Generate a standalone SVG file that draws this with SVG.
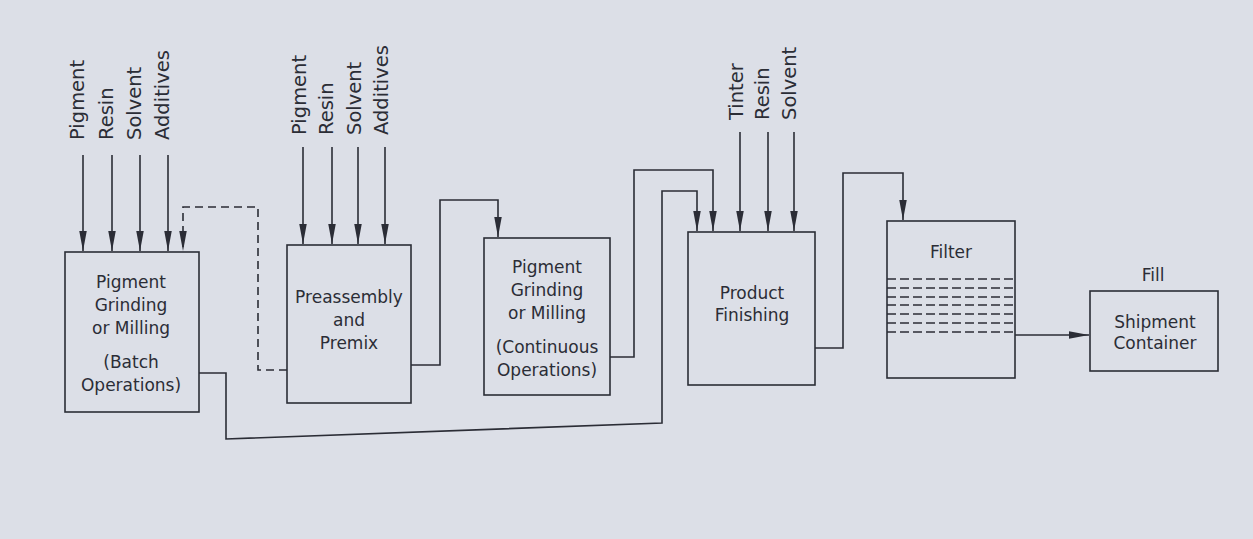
<svg xmlns="http://www.w3.org/2000/svg" width="1253" height="539" viewBox="0 0 1253 539">
<defs>
<style>
.box{fill:none;stroke:#2b2d36;stroke-width:1.6}
.ln{fill:none;stroke:#2b2d36;stroke-width:1.6}
.dash{stroke-dasharray:8 5}
.fd{fill:none;stroke:#2b2d36;stroke-width:1.6;stroke-dasharray:9 4}
.t{font-family:"DejaVu Sans",sans-serif;font-size:17px;fill:#2b2d36;text-anchor:middle}
.v{font-family:"DejaVu Sans",sans-serif;font-size:19.5px;fill:#2b2d36;text-anchor:start}
</style>
<marker id="ah" markerUnits="userSpaceOnUse" markerWidth="21" markerHeight="8" refX="20" refY="3.75" orient="auto">
<path d="M0,0 L20,3.75 L0,7.5 z" fill="#2b2d36"/>
</marker>
</defs>
<rect width="1253" height="539" fill="#dcdfe7"/>

<g id="connectors">
<g id="inputs-batch">
<line class="ln" x1="83" y1="155" x2="83" y2="251" marker-end="url(#ah)"/>
<line class="ln" x1="112" y1="155" x2="112" y2="251" marker-end="url(#ah)"/>
<line class="ln" x1="140" y1="155" x2="140" y2="251" marker-end="url(#ah)"/>
<line class="ln" x1="168" y1="155" x2="168" y2="251" marker-end="url(#ah)"/>
<text class="v" transform="translate(84,140) rotate(-90)">Pigment</text>
<text class="v" transform="translate(113,140) rotate(-90)">Resin</text>
<text class="v" transform="translate(141,140) rotate(-90)">Solvent</text>
<text class="v" transform="translate(169,140) rotate(-90)">Additives</text>
</g>
<g id="inputs-premix">
<line class="ln" x1="303" y1="147" x2="303" y2="244" marker-end="url(#ah)"/>
<line class="ln" x1="332" y1="147" x2="332" y2="244" marker-end="url(#ah)"/>
<line class="ln" x1="358" y1="147" x2="358" y2="244" marker-end="url(#ah)"/>
<line class="ln" x1="385" y1="147" x2="385" y2="244" marker-end="url(#ah)"/>
<text class="v" transform="translate(306,135) rotate(-90)">Pigment</text>
<text class="v" transform="translate(333,135) rotate(-90)">Resin</text>
<text class="v" transform="translate(361,135) rotate(-90)">Solvent</text>
<text class="v" transform="translate(388,135) rotate(-90)">Additives</text>
</g>
<g id="inputs-finishing">
<line class="ln" x1="740" y1="132" x2="740" y2="231" marker-end="url(#ah)"/>
<line class="ln" x1="768" y1="132" x2="768" y2="231" marker-end="url(#ah)"/>
<line class="ln" x1="794" y1="132" x2="794" y2="231" marker-end="url(#ah)"/>
<text class="v" transform="translate(743,120) rotate(-90)">Tinter</text>
<text class="v" transform="translate(769,120) rotate(-90)">Resin</text>
<text class="v" transform="translate(796,120) rotate(-90)">Solvent</text>
</g>
<polyline class="ln dash" points="287,370 258,370 258,207 183,207 183,251" marker-end="url(#ah)"/>
<polyline class="ln" points="411,365 440,365 440,200 498,200 498,237" marker-end="url(#ah)"/>
<polyline class="ln" points="610,357 634,357 634,170 713,170 713,231" marker-end="url(#ah)"/>
<polyline class="ln" points="199,373 226,373 226,439 662,423 662,191 697,191 697,231" marker-end="url(#ah)"/>
<polyline class="ln" points="815,348 843,348 843,173 903,173 903,220" marker-end="url(#ah)"/>
<line class="ln" x1="1015" y1="335" x2="1089" y2="335" marker-end="url(#ah)"/>
</g>

<g id="batch-grinding">
<rect class="box" x="65" y="252" width="134" height="160"/>
<text class="t" x="131" y="288">Pigment</text>
<text class="t" x="131" y="311">Grinding</text>
<text class="t" x="131" y="334">or Milling</text>
<text class="t" x="131" y="368">(Batch</text>
<text class="t" x="131" y="391">Operations)</text>
</g>

<g id="preassembly">
<rect class="box" x="287" y="245" width="124" height="158"/>
<text class="t" x="349" y="303">Preassembly</text>
<text class="t" x="349" y="326">and</text>
<text class="t" x="349" y="349">Premix</text>
</g>

<g id="continuous-grinding">
<rect class="box" x="484" y="238" width="126" height="157"/>
<text class="t" x="547" y="273">Pigment</text>
<text class="t" x="547" y="296">Grinding</text>
<text class="t" x="547" y="319">or Milling</text>
<text class="t" x="547" y="353">(Continuous</text>
<text class="t" x="547" y="376">Operations)</text>
</g>

<g id="product-finishing">
<rect class="box" x="688" y="232" width="127" height="153"/>
<text class="t" x="752" y="299">Product</text>
<text class="t" x="752" y="321">Finishing</text>
</g>

<g id="filter">
<rect class="box" x="887" y="221" width="128" height="157"/>
<text class="t" x="951" y="258">Filter</text>
<line class="fd" x1="887" y1="279" x2="1015" y2="279"/>
<line class="fd" x1="887" y1="288" x2="1015" y2="288"/>
<line class="fd" x1="887" y1="297" x2="1015" y2="297"/>
<line class="fd" x1="887" y1="305" x2="1015" y2="305"/>
<line class="fd" x1="887" y1="314" x2="1015" y2="314"/>
<line class="fd" x1="887" y1="323" x2="1015" y2="323"/>
<line class="fd" x1="887" y1="332" x2="1015" y2="332"/>
</g>

<g id="shipment">
<text class="t" x="1153" y="281">Fill</text>
<rect class="box" x="1090" y="291" width="128" height="80"/>
<text class="t" x="1155" y="328">Shipment</text>
<text class="t" x="1155" y="349">Container</text>
</g>
</svg>
